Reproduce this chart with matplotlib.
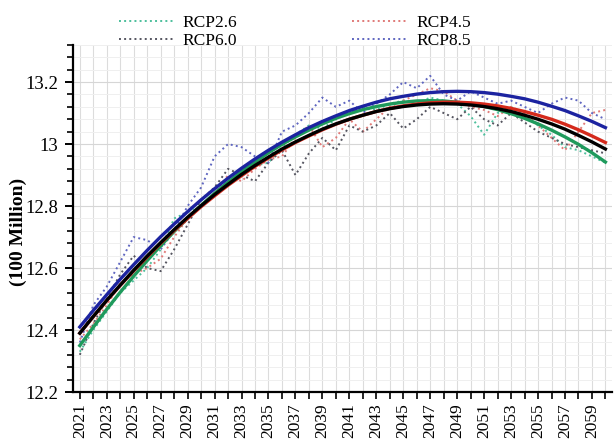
import matplotlib
matplotlib.use('Agg')
import matplotlib.pyplot as plt
from matplotlib.ticker import MultipleLocator

plt.rcParams['font.family'] = ['Liberation Serif', 'DejaVu Serif']

years = list(range(2021, 2061))

# raw (dotted) series
rcp26_raw = [12.33, 12.40, 12.46, 12.52, 12.56, 12.60, 12.66, 12.76, 12.78, 12.80,
             12.84, 12.88, 12.90, 12.93, 12.94, 12.99, 13.03, 13.06, 13.05, 13.08,
             13.10, 13.12, 13.11, 13.13, 13.14, 13.13, 13.15, 13.14, 13.13, 13.09,
             13.03, 13.10, 13.12, 13.09, 13.06, 13.03, 12.99, 12.98, 12.96, 12.94]
rcp45_raw = [12.37, 12.42, 12.48, 12.55, 12.58, 12.60, 12.63, 12.70, 12.76, 12.80,
             12.84, 12.90, 12.88, 12.92, 12.95, 12.96, 13.02, 13.06, 12.99, 13.02,
             13.08, 13.04, 13.08, 13.12, 13.14, 13.16, 13.18, 13.17, 13.14, 13.12,
             13.11, 13.09, 13.12, 13.10, 13.06, 13.02, 12.98, 13.04, 13.10, 13.11]
rcp60_raw = [12.32, 12.42, 12.50, 12.58, 12.64, 12.60, 12.59, 12.66, 12.74, 12.82,
             12.86, 12.92, 12.90, 12.88, 12.94, 12.98, 12.90, 12.97, 13.02, 12.98,
             13.06, 13.04, 13.06, 13.10, 13.05, 13.08, 13.12, 13.10, 13.08, 13.12,
             13.08, 13.06, 13.10, 13.07, 13.04, 13.02, 13.00, 12.99, 12.98, 12.97]
rcp85_raw = [12.36, 12.48, 12.54, 12.62, 12.70, 12.69, 12.66, 12.72, 12.80, 12.86,
             12.96, 13.00, 12.99, 12.96, 12.94, 13.04, 13.06, 13.10, 13.15, 13.12,
             13.14, 13.10, 13.13, 13.16, 13.20, 13.18, 13.22, 13.16, 13.14, 13.17,
             13.15, 13.13, 13.14, 13.12, 13.10, 13.13, 13.15, 13.14, 13.10, 13.08]

# fitted (solid) curves
rcp26_fit = [12.350, 12.409, 12.467, 12.522, 12.574, 12.624, 12.672, 12.718, 12.761, 12.802,
             12.841, 12.877, 12.911, 12.942, 12.972, 12.999, 13.023, 13.045, 13.065, 13.083,
             13.098, 13.111, 13.121, 13.129, 13.135, 13.139, 13.140, 13.139, 13.135, 13.129,
             13.121, 13.111, 13.098, 13.083, 13.065, 13.045, 13.023, 12.999, 12.972, 12.942]
rcp45_fit = [12.390, 12.443, 12.495, 12.544, 12.591, 12.636, 12.680, 12.721, 12.760, 12.798,
             12.833, 12.867, 12.898, 12.928, 12.955, 12.981, 13.005, 13.026, 13.046, 13.064,
             13.080, 13.093, 13.105, 13.115, 13.123, 13.129, 13.133, 13.135, 13.135, 13.133,
             13.129, 13.123, 13.115, 13.105, 13.093, 13.080, 13.064, 13.046, 13.026, 13.005]
rcp60_fit = [12.390, 12.444, 12.496, 12.545, 12.593, 12.639, 12.682, 12.724, 12.764, 12.801,
             12.837, 12.870, 12.902, 12.931, 12.958, 12.984, 13.007, 13.028, 13.048, 13.065,
             13.080, 13.093, 13.105, 13.114, 13.121, 13.126, 13.129, 13.130, 13.129, 13.126,
             13.121, 13.114, 13.105, 13.093, 13.080, 13.065, 13.048, 13.028, 13.007, 12.984]
rcp85_fit = [12.410, 12.463, 12.514, 12.564, 12.611, 12.657, 12.701, 12.742, 12.782, 12.820,
             12.856, 12.890, 12.922, 12.952, 12.980, 13.006, 13.030, 13.053, 13.073, 13.091,
             13.108, 13.122, 13.135, 13.146, 13.154, 13.161, 13.166, 13.169, 13.170, 13.169,
             13.166, 13.161, 13.154, 13.146, 13.135, 13.122, 13.108, 13.091, 13.073, 13.053]

fig = plt.figure(figsize=(6.14, 4.44), dpi=100)
ax = fig.add_axes([0.119, 0.117, 0.878, 0.782])

# grid
ax.set_axisbelow(True)
ax.set_xticks(list(range(2021, 2061, 2)))
ax.xaxis.set_minor_locator(MultipleLocator(1))
ax.yaxis.set_minor_locator(MultipleLocator(0.04))
ax.grid(which='both', axis='x', color='#dcdcdc', lw=0.8)
ax.grid(which='major', axis='y', color='#d6d6d6', lw=0.8)
ax.grid(which='minor', axis='y', color='#efefef', lw=0.7)

# dotted raw data
l26, = ax.plot(years, rcp26_raw, ls=':', color='#4dbf9c', lw=1.4, label='RCP2.6')
l45, = ax.plot(years, rcp45_raw, ls=':', color='#e07a78', lw=1.4, label='RCP4.5')
l60, = ax.plot(years, rcp60_raw, ls=':', color='#555560', lw=1.4, label='RCP6.0')
l85, = ax.plot(years, rcp85_raw, ls=':', color='#5f66c0', lw=1.4, label='RCP8.5')

# fitted curves
ax.plot(years, rcp26_fit, color='#1f9a5c', lw=2.4)
ax.plot(years, rcp45_fit, color='#d42a1c', lw=2.4)
ax.plot(years, rcp60_fit, color='#000000', lw=2.4)
ax.plot(years, rcp85_fit, color='#1c23a0', lw=2.4)

ax.set_xlim(2020.5, 2060.5)
ax.set_ylim(12.2, 13.32)
ax.set_yticks([12.2, 12.4, 12.6, 12.8, 13.0, 13.2])
ax.set_yticklabels(['12.2', '12.4', '12.6', '12.8', '13', '13.2'])

for s in ['top', 'right']:
    ax.spines[s].set_visible(False)
for s in ['left', 'bottom']:
    ax.spines[s].set_linewidth(1.6)

ax.tick_params(axis='y', which='major', direction='out', length=6, width=1.4, labelsize=13.5, pad=5)
ax.tick_params(axis='y', which='minor', direction='out', length=4, width=1.2)
ax.tick_params(axis='x', which='both', direction='out', length=5, width=1.2)
ax.tick_params(axis='x', which='major', labelsize=12.5, labelrotation=90, pad=3)

fig.text(18 / 614, 0.477, '(100 Million)', rotation=90, fontsize=14, fontweight='bold',
         ha='center', va='center')

fig.legend([l26, l60, l45, l85], ['RCP2.6', 'RCP6.0', 'RCP4.5', 'RCP8.5'],
           ncol=2, frameon=False, fontsize=12.5, handlelength=3.2, handletextpad=0.5,
           columnspacing=6.6, labelspacing=0.1, loc='center',
           bbox_to_anchor=(0.48, 0.928))

plt.savefig('out.png', dpi=100)
